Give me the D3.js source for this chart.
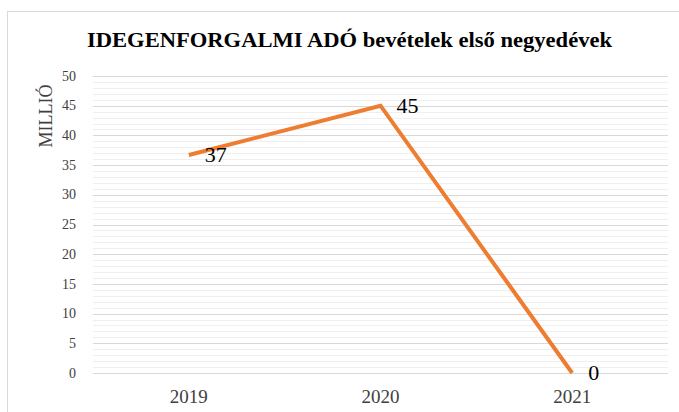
<!DOCTYPE html>
<html>
<head>
<meta charset="utf-8">
<script src="https://cdn.jsdelivr.net/npm/d3@7"></script>
<style>
  body { margin: 0; background: #fff; }
</style>
</head>
<body>
<div id="chart"></div>
<script>
// Data
const years = ["2019", "2020", "2021"];
const values = [36.7, 45, 0];
const valueLabels = ["37", "45", "0"];
const yTicks = [0, 5, 10, 15, 20, 25, 30, 35, 40, 45, 50];

const width = 679, height = 412;
const margin = {top: 76, right: 11, bottom: 39, left: 93};
const serif = '"Liberation Serif"';

const svg = d3.select("#chart").append("svg")
    .attr("width", width)
    .attr("height", height);

// chart frame
svg.append("rect")
    .attr("x", 7.5).attr("y", 11.5)
    .attr("width", width + 10).attr("height", height + 10)
    .attr("fill", "#fff")
    .attr("stroke", "#d9d9d9");

const x = d3.scalePoint()
    .domain(years)
    .range([margin.left, width - margin.right])
    .padding(0.5);

const y = d3.scaleLinear()
    .domain([0, 50])
    .range([height - margin.bottom, margin.top]);

// minor gridlines
svg.append("g")
    .selectAll("line")
    .data(d3.range(0, 51).filter(v => v % 5 !== 0))
    .enter().append("line")
    .attr("x1", margin.left).attr("x2", width - margin.right)
    .attr("y1", d => Math.round(y(d)) + 0.5).attr("y2", d => Math.round(y(d)) + 0.5)
    .attr("stroke", "#efefef");

// major gridlines
svg.append("g")
    .selectAll("line")
    .data(yTicks)
    .enter().append("line")
    .attr("x1", margin.left).attr("x2", width - margin.right)
    .attr("y1", d => Math.round(y(d)) + 0.5).attr("y2", d => Math.round(y(d)) + 0.5)
    .attr("stroke", "#d9d9d9");

// y axis labels
svg.append("g")
    .selectAll("text")
    .data(yTicks)
    .enter().append("text")
    .attr("x", 76)
    .attr("y", d => y(d))
    .attr("dy", "0.33em")
    .attr("text-anchor", "end")
    .style("font-family", serif)
    .style("font-size", "14px")
    .style("fill", "#404040")
    .text(d => d);

// x axis labels
svg.append("g")
    .selectAll("text")
    .data(years)
    .enter().append("text")
    .attr("x", d => x(d))
    .attr("y", 403)
    .attr("text-anchor", "middle")
    .style("font-family", serif)
    .style("font-size", "19px")
    .style("fill", "#404040")
    .text(d => d);

// axis title
svg.append("text")
    .attr("transform", "translate(52,116) rotate(-90)")
    .attr("text-anchor", "middle")
    .style("font-family", serif)
    .style("font-size", "18px")
    .style("fill", "#404040")
    .text("MILLIÓ");

// title
svg.append("text")
    .attr("x", 87)
    .attr("y", 47)
    .attr("textLength", 525)
    .attr("lengthAdjust", "spacingAndGlyphs")
    .style("font-family", serif)
    .style("font-size", "21px")
    .style("font-weight", "bold")
    .style("fill", "#000")
    .text("IDEGENFORGALMI ADÓ bevételek első negyedévek");

// line
const line = d3.line()
    .x((d, i) => x(years[i]))
    .y(d => y(d));

svg.append("path")
    .datum(values)
    .attr("d", line)
    .attr("fill", "none")
    .attr("stroke", "#ed7d31")
    .attr("stroke-width", 4)
    .attr("stroke-linejoin", "miter");

// data labels
svg.append("g")
    .selectAll("text")
    .data(values)
    .enter().append("text")
    .attr("x", (d, i) => x(years[i]) + 16)
    .attr("y", d => y(d))
    .attr("dy", "0.34em")
    .style("font-family", serif)
    .style("font-size", "22px")
    .style("fill", "#000")
    .text((d, i) => valueLabels[i]);
</script>
</body>
</html>
